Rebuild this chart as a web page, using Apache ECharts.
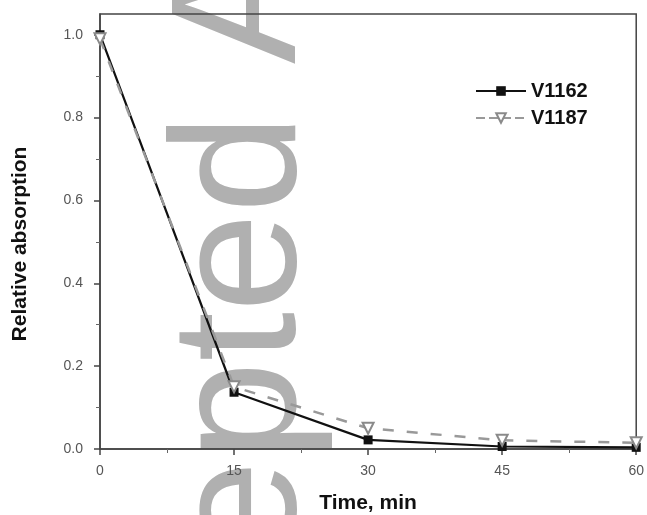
<!DOCTYPE html>
<html>
<head>
<meta charset="utf-8">
<script src="https://cdn.jsdelivr.net/npm/echarts@6/dist/echarts.min.js"></script>
<style>
html,body{margin:0;padding:0;background:#fff;}
#main{width:647px;height:515px;}
</style>
</head>
<body>
<div id="main"></div>
<script>
// data
var times = [0, 15, 30, 45, 60];
var v1162 = [1.0, 0.137, 0.022, 0.006, 0.004];
var v1187 = [0.99, 0.15, 0.05, 0.021, 0.015];
var xTicks = [0, 15, 30, 45, 60];
var yTicks = [0, 0.2, 0.4, 0.6, 0.8, 1.0];
var yMinorTicks = [0.1, 0.3, 0.5, 0.7, 0.9];

var chart = echarts.init(document.getElementById('main'));

function pairs(xs, ys){
  var out = [];
  for(var i=0;i<xs.length;i++){ out.push([xs[i], ys[i]]); }
  return out;
}

var fontFam = 'Liberation Sans, Arial, sans-serif';

var option = {
  backgroundColor: '#fff',
  animation: false,
  grid: {
    left: 100, right: 10, top: 14, bottom: 66,
    show: true, borderColor: '#444', borderWidth: 1.5, backgroundColor: 'transparent'
  },
  legend: {
    orient: 'vertical',
    left: 470, top: 76,
    itemWidth: 50, itemHeight: 12, itemGap: 7,
    textStyle: { fontFamily: fontFam, fontWeight: 'bold', fontSize: 20, color: '#111' },
    data: ['V1162', { name: 'V1187', lineStyle: { type: [9, 4] } }]
  },
  xAxis: {
    type: 'value', min: 0, max: 60, interval: 15,
    axisLine: { lineStyle: { color: '#444', width: 1.5 } },
    axisTick: { show: true, length: 6, lineStyle: { color: '#444', width: 1.5 } },
    minorTick: { show: true, splitNumber: 2, length: 4, lineStyle: { color: '#666', width: 1 } },
    splitLine: { show: false },
    axisLabel: { fontFamily: fontFam, fontSize: 14, color: '#555', margin: 15,
      customValues: xTicks }
  },
  yAxis: [{
    type: 'value', min: 0, max: 1.05,
    axisLine: { show: true, lineStyle: { color: '#444', width: 1.5 } },
    axisTick: { show: true, length: 6, lineStyle: { color: '#444', width: 1.5 }, customValues: yTicks },
    splitLine: { show: false },
    axisLabel: { fontFamily: fontFam, fontSize: 14, color: '#555', margin: 17,
      customValues: yTicks,
      formatter: function(v){ return v.toFixed(1); } }
  }, {
    type: 'value', min: 0, max: 1.05, position: 'left',
    axisLine: { show: false },
    axisTick: { show: true, length: 4, lineStyle: { color: '#666', width: 1 }, customValues: yMinorTicks },
    axisLabel: { show: false },
    splitLine: { show: false }
  }],
  series: [{
    name: 'V1162', type: 'line',
    data: pairs(times, v1162),
    symbol: 'rect', symbolSize: 9,
    itemStyle: { color: '#111' },
    lineStyle: { color: '#111', width: 2.2 },
    z: 3
  }, {
    name: 'V1187', type: 'line',
    data: pairs(times, v1187),
    symbol: 'triangle', symbolRotate: 180, symbolSize: 11,
    itemStyle: { color: '#fff', borderColor: '#8a8a8a', borderWidth: 2 },
    lineStyle: { color: '#999', width: 2.5, type: [11, 13] },
    z: 4
  }],
  graphic: [{
    type: 'text', z: -10,
    x: 157, y: 114, rotation: Math.PI / 2,
    style: { text: 'Accepted', fontFamily: fontFam, fontSize: 178, fill: '#b0b0b0',
      align: 'right', verticalAlign: 'top' }
  }, {
    type: 'text', z: -10,
    x: 157, y: 64, rotation: Math.PI / 2,
    style: { text: 'Article', fontFamily: fontFam, fontSize: 178, fill: '#b0b0b0',
      align: 'left', verticalAlign: 'top' }
  }, {
    type: 'text',
    x: 368, y: 503,
    style: { text: 'Time, min', fontFamily: fontFam, fontSize: 21, fontWeight: 'bold', fill: '#111',
      align: 'center', verticalAlign: 'middle' }
  }, {
    type: 'text',
    x: 20, y: 244, rotation: Math.PI / 2,
    style: { text: 'Relative absorption', fontFamily: fontFam, fontSize: 21, fontWeight: 'bold', fill: '#111',
      align: 'center', verticalAlign: 'middle' }
  }]
};

chart.setOption(option);
</script>
</body>
</html>
